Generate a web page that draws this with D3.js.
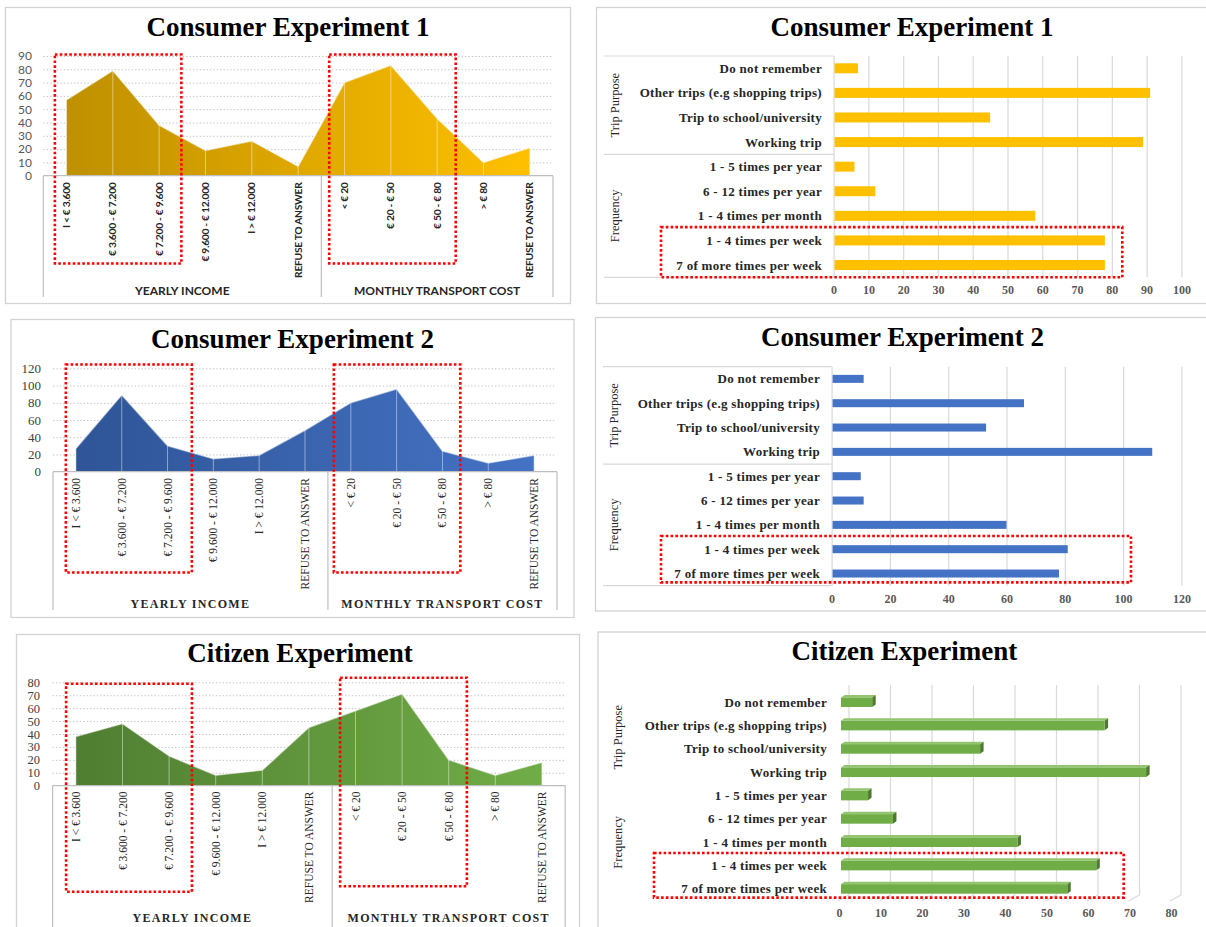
<!DOCTYPE html>
<html>
<head>
<meta charset="utf-8">
<script src="https://cdn.jsdelivr.net/npm/d3@7"></script>
<style>
  html, body { margin: 0; padding: 0; background: #ffffff; }
  svg { display: block; }
</style>
</head>
<body>
<svg id="fig" width="1206" height="927"></svg>
<script>
// ---- Category labels ----
const incomeBands = ["I < € 3.600", "€ 3.600 - € 7.200", "€ 7.200 - € 9.600", "€ 9.600 - € 12.000", "I > € 12.000", "REFUSE TO ANSWER"];
const costBands = ["< € 20", "€ 20 - € 50", "€ 50 - € 80", "> € 80", "REFUSE TO ANSWER"];
const profileGroups = ["YEARLY INCOME", "MONTHLY TRANSPORT COST"];

const tripPurposes = ["Do not remember", "Other trips (e.g shopping trips)", "Trip to school/university", "Working trip"];
const tripFrequencies = ["1 - 5 times per year", "6 - 12 times per year", "1 - 4 times per month", "1 - 4 times per week", "7 of more times per week"];
const usageGroups = ["Trip Purpose", "Frequency"];

const panelTitles = ["Consumer Experiment 1", "Consumer Experiment 2", "Citizen Experiment"];

// ---- Respondents per profile category (income bands, then transport cost bands) ----
const consumer1Profile = [57, 79, 38, 19, 26, 7, 70, 83, 43, 10, 21];
const consumer2Profile = [27, 89, 30, 15, 19, 48, 80, 96, 24, 10, 19];
const citizenProfile   = [38, 48, 23, 8, 12, 45, 58, 71, 20, 8, 18];

// ---- Respondents per trip purpose and per frequency ----
const consumer1Purpose   = [7, 91, 45, 89];
const consumer1Frequency = [6, 12, 58, 78, 78];
const consumer2Purpose   = [11, 66, 53, 110];
const consumer2Frequency = [10, 11, 60, 81, 78];
const citizenPurpose     = [8, 64, 34, 74];
const citizenFrequency   = [7, 13, 43, 62, 55];

// ---- Tick labels ----
const consumer1ProfileTicks = [0, 10, 20, 30, 40, 50, 60, 70, 80, 90];
const consumer2ProfileTicks = [0, 20, 40, 60, 80, 100, 120];
const citizenProfileTicks   = [0, 10, 20, 30, 40, 50, 60, 70, 80];
const consumer1UsageTicks = [0, 10, 20, 30, 40, 50, 60, 70, 80, 90, 100];
const consumer2UsageTicks = [0, 20, 40, 60, 80, 100, 120];
const citizenUsageTicks   = [0, 10, 20, 30, 40, 50, 60, 70, 80];

// ---- Drawing ----
const SERIF = "'Liberation Serif', 'DejaVu Serif', serif";
const SANS = "Lato, 'Liberation Sans', sans-serif";
const INK = "#262626";
const svg = d3.select("#fig");
const defs = svg.append("defs");

function drawFrame(b) {
  svg.append("rect")
    .attr("x", b[0]).attr("y", b[1])
    .attr("width", b[2] - b[0]).attr("height", b[3] - b[1])
    .attr("fill", "none").attr("stroke", "#d3d3d3").attr("stroke-width", 1.3);
}

function drawTitle(text, x, y) {
  svg.append("text")
    .attr("x", x).attr("y", y)
    .attr("text-anchor", "middle")
    .attr("font-family", SERIF).attr("font-weight", "bold")
    .attr("font-size", 27).attr("fill", "#000")
    .text(text);
}

function highlightBox(x0, y0, x1, y1) {
  svg.append("rect")
    .attr("x", x0).attr("y", y0)
    .attr("width", x1 - x0).attr("height", y1 - y0)
    .attr("fill", "none").attr("stroke", "#ff0000")
    .attr("stroke-width", 2.6).attr("stroke-dasharray", "2.6 2.2");
}

// Area chart of the respondent profile, with a two-level category axis
function drawProfile(p) {
  drawFrame(p.frame);
  drawTitle(p.title, p.titleX, p.titleY);

  const cats = incomeBands.concat(costBands);
  const x = d3.scaleBand().domain(d3.range(cats.length)).range(p.x);
  const step = x.step();
  const cx = i => x(i) + step / 2;
  const y = d3.scaleLinear().domain([0, d3.max(p.ticks)]).range(p.y);
  const labelFont = p.sans ? SANS : SERIF;

  // dotted horizontal gridlines
  const grid = svg.append("g")
    .attr("transform", `translate(${p.x[0]},0)`)
    .call(d3.axisRight(y).tickValues(p.ticks.filter(t => t > 0))
      .tickSize(p.x[1] - p.x[0] - 1).tickFormat(""));
  grid.select(".domain").remove();
  grid.selectAll("line")
    .attr("stroke", "#c4c4c4").attr("stroke-width", 1).attr("stroke-dasharray", "1.4 2");

  // value labels on the left
  const yAxis = svg.append("g")
    .attr("transform", `translate(${p.tickX},0)`)
    .call(d3.axisLeft(y).tickValues(p.ticks).tickSize(0).tickPadding(0));
  yAxis.select(".domain").remove();
  yAxis.selectAll("text")
    .attr("font-family", labelFont)
    .attr("font-size", p.tickSize)
    .attr("fill", p.sans ? "#595959" : "#404040");

  // filled area with a left-to-right shade
  const gid = "shade-" + p.id;
  const grad = defs.append("linearGradient").attr("id", gid)
    .attr("gradientUnits", "userSpaceOnUse")
    .attr("x1", cx(0)).attr("x2", cx(cats.length - 1)).attr("y1", 0).attr("y2", 0);
  grad.append("stop").attr("offset", 0).attr("stop-color", p.colors[0]);
  grad.append("stop").attr("offset", 1).attr("stop-color", p.colors[1]);

  const area = d3.area().x((d, i) => cx(i)).y0(y(0)).y1(d => y(d));
  svg.append("path").datum(p.values).attr("d", area).attr("fill", `url(#${gid})`);

  // pale drop lines at each category
  svg.append("g").selectAll("line").data(p.values).join("line")
    .attr("x1", (d, i) => cx(i)).attr("x2", (d, i) => cx(i))
    .attr("y1", d => y(d)).attr("y2", y(0))
    .attr("stroke", "rgba(255,255,255,0.45)").attr("stroke-width", 1);

  // pale rim along the top of the area
  const rim = d3.line().x((d, i) => cx(i)).y(d => y(d));
  svg.append("path").datum(p.values).attr("d", rim)
    .attr("fill", "none").attr("stroke", "rgba(255,255,255,0.5)").attr("stroke-width", 1.4);

  // category axis frame
  const split = x(incomeBands.length);
  const axisColor = "#bfbfbf";
  const frameLines = [
    [p.x[0], y(0), p.x[1], y(0)],
    [p.x[0], y(0), p.x[0], p.boxBottom],
    [split, y(0), split, p.boxBottom],
    [p.x[1], y(0), p.x[1], p.boxBottom]
  ];
  svg.append("g").selectAll("line").data(frameLines).join("line")
    .attr("x1", d => d[0]).attr("y1", d => d[1]).attr("x2", d => d[2]).attr("y2", d => d[3])
    .attr("stroke", axisColor).attr("stroke-width", 1.2);

  // rotated category labels
  svg.append("g").selectAll("text").data(cats).join("text")
    .attr("transform", (d, i) => `translate(${cx(i)},${p.labelTop}) rotate(-90)`)
    .attr("text-anchor", "end").attr("dy", "0.35em")
    .attr("font-family", labelFont)
    .attr("font-weight", p.sans ? "bold" : "normal")
    .attr("font-size", p.sans ? 10.3 : 11.5)
    .attr("letter-spacing", p.sans ? -0.3 : 0)
    .attr("fill", INK)
    .text(d => d);

  // group labels
  const groupCenters = [(p.x[0] + split) / 2, (split + p.x[1]) / 2];
  svg.append("g").selectAll("text").data(profileGroups).join("text")
    .attr("x", (d, i) => groupCenters[i]).attr("y", p.groupY)
    .attr("text-anchor", "middle").attr("dominant-baseline", "central")
    .attr("font-family", labelFont).attr("font-weight", "bold")
    .attr("font-size", p.sans ? 12 : 12)
    .attr("letter-spacing", p.sans ? 0 : 1.3)
    .attr("fill", INK)
    .text(d => d);

  // dotted highlight boxes
  p.boxes.forEach(b => {
    highlightBox(x(b.from) + b.padL * step, b.top, x(b.to) + step - b.padR * step, b.bottom);
  });
}

// Horizontal bar chart of trip purpose and frequency
function drawUsage(p) {
  drawFrame(p.frame);
  drawTitle(p.title, p.titleX, p.titleY);

  const cats = tripPurposes.concat(tripFrequencies);
  const values = p.purpose.concat(p.frequency);
  const x = d3.scaleLinear().domain([0, d3.max(p.ticks)]).range(p.x);
  const yb = d3.scaleBand().domain(d3.range(cats.length)).range(p.band);
  const cy = i => yb(i) + yb.bandwidth() / 2;
  const bandTop = p.band[0], bandBottom = p.band[1];

  if (!p.threeD) {
    // vertical gridlines
    const grid = svg.append("g")
      .attr("transform", `translate(0,${bandTop})`)
      .call(d3.axisTop(x).tickValues(p.ticks).tickSize(-(bandBottom - bandTop)).tickFormat(""));
    grid.select(".domain").remove();
    grid.selectAll("line").attr("stroke", "#d9d9d9").attr("stroke-width", 1.2);

    // label box lines on the left
    const split = yb(tripPurposes.length);
    const boxLines = [
      [p.boxLeft, bandTop, x(0), bandTop],
      [p.boxLeft, split, x(0), split],
      [p.boxLeft, bandBottom, x(0), bandBottom]
    ];
    svg.append("g").selectAll("line").data(boxLines).join("line")
      .attr("x1", d => d[0]).attr("y1", d => d[1]).attr("x2", d => d[2]).attr("y2", d => d[3])
      .attr("stroke", "#d9d9d9").attr("stroke-width", 1.2);

    // flat bars
    svg.append("g").selectAll("rect").data(values).join("rect")
      .attr("x", x(0) + 1)
      .attr("y", (d, i) => cy(i) - p.barH / 2)
      .attr("width", d => x(d) - x(0) - 1)
      .attr("height", p.barH)
      .attr("fill", p.color);
  } else {
    // back wall gridlines with a short perspective floor segment
    const back = p.depth.wall, floorDx = p.depth.floor;
    const g = svg.append("g");
    g.selectAll("path").data(p.ticks).join("path")
      .attr("d", t => `M${x(t) + back},${p.wallTop} L${x(t) + back},${p.wallBottom} L${x(t) + back - floorDx},${p.wallBottom + p.depth.drop}`)
      .attr("fill", "none").attr("stroke", "#d9d9d9").attr("stroke-width", 1.2);

    // bars with front, top and side faces
    const d = p.depth.bar, rise = p.depth.barRise;
    const bars = svg.append("g").selectAll("g").data(values).join("g");
    const x0 = x(0) + 2;
    bars.append("path")
      .attr("d", (v, i) => {
        const t = cy(i) - p.barH / 2;
        return `M${x0},${t} L${x0 + d},${t - rise} L${x(v) + d},${t - rise} L${x(v)},${t} Z`;
      })
      .attr("fill", "#93c56f");
    bars.append("path")
      .attr("d", (v, i) => {
        const t = cy(i) - p.barH / 2, b = cy(i) + p.barH / 2;
        return `M${x(v)},${t} L${x(v) + d},${t - rise} L${x(v) + d},${b - rise} L${x(v)},${b} Z`;
      })
      .attr("fill", "#4d7a2e");
    bars.append("rect")
      .attr("x", x0)
      .attr("y", (v, i) => cy(i) - p.barH / 2)
      .attr("width", v => x(v) - x0)
      .attr("height", p.barH)
      .attr("fill", p.color);
  }

  // value tick labels
  const xAxis = svg.append("g")
    .attr("transform", `translate(0,${p.tickY})`)
    .call(d3.axisBottom(x).tickValues(p.ticks).tickSize(0).tickPadding(0));
  xAxis.select(".domain").remove();
  xAxis.selectAll("text")
    .attr("dy", "0.35em")
    .attr("font-family", SERIF).attr("font-weight", "bold")
    .attr("font-size", 12).attr("fill", "#595959");

  // category labels
  svg.append("g").selectAll("text").data(cats).join("text")
    .attr("x", p.labelX).attr("y", (d, i) => cy(i))
    .attr("text-anchor", "end").attr("dominant-baseline", "central")
    .attr("font-family", SERIF).attr("font-weight", "bold")
    .attr("font-size", 13).attr("letter-spacing", 0.3)
    .attr("fill", INK)
    .text(d => d);

  // rotated group labels
  const groupCenters = [
    (yb(0) + yb(tripPurposes.length - 1) + yb.bandwidth()) / 2,
    (yb(tripPurposes.length) + yb(cats.length - 1) + yb.bandwidth()) / 2
  ];
  svg.append("g").selectAll("text").data(usageGroups).join("text")
    .attr("transform", (d, i) => `translate(${p.groupX},${groupCenters[i]}) rotate(-90)`)
    .attr("text-anchor", "middle").attr("dominant-baseline", "central")
    .attr("font-family", SERIF).attr("font-size", 12.5).attr("fill", INK)
    .text(d => d);

  // dotted highlight box around the weekly frequencies
  const h = p.highlight;
  highlightBox(h.left, yb(h.from) - 1, x(h.upTo), bandBottom - h.bottomInset);
}

drawProfile({
  id: "ce1", title: panelTitles[0], values: consumer1Profile, ticks: consumer1ProfileTicks,
  frame: [5.5, 7.5, 570.5, 303.5], titleX: 288, titleY: 36,
  x: [43.3, 553], y: [175.7, 56], tickX: 32, tickSize: 12, labelTop: 182.5, boxBottom: 297, groupY: 290,
  colors: ["#bf9000", "#ffc000"], sans: true,
  boxes: [
    { from: 0, to: 2, padL: 0.25, padR: 0.02, top: 54.5, bottom: 263.5 },
    { from: 6, to: 8, padL: 0.17, padR: 0.1, top: 54.5, bottom: 263.5 }
  ]
});

drawProfile({
  id: "ce2", title: panelTitles[1], values: consumer2Profile, ticks: consumer2ProfileTicks,
  frame: [11, 319.5, 574, 617.5], titleX: 292.6, titleY: 348,
  x: [53, 557], y: [471.7, 368.3], tickX: 41, tickSize: 13, labelTop: 478, boxBottom: 610, groupY: 604,
  colors: ["#2f5597", "#4472c4"], sans: false,
  boxes: [
    { from: 0, to: 2, padL: 0.28, padR: -0.03, top: 364.5, bottom: 572.5 },
    { from: 6, to: 8, padL: 0.13, padR: 0.11, top: 364.5, bottom: 572.5 }
  ]
});

drawProfile({
  id: "cit", title: panelTitles[2], values: citizenProfile, ticks: citizenProfileTicks,
  frame: [16.5, 634.5, 579.5, 945], titleX: 300, titleY: 662,
  x: [52.6, 565.2], y: [785.7, 682.3], tickX: 40, tickSize: 12.5, labelTop: 791.5, boxBottom: 945, groupY: 918,
  colors: ["#507e32", "#70ad47"], sans: false,
  boxes: [
    { from: 0, to: 2, padL: 0.29, padR: 0.01, top: 683.7, bottom: 891.7 },
    { from: 6, to: 8, padL: 0.17, padR: 0.11, top: 677.7, bottom: 886.3 }
  ]
});

drawUsage({
  title: panelTitles[0], purpose: consumer1Purpose, frequency: consumer1Frequency, ticks: consumer1UsageTicks,
  frame: [596.5, 7.5, 1215, 303.5], titleX: 912, titleY: 36,
  x: [833.6, 1181.4], band: [56, 277.3], labelX: 822, groupX: 614.5, boxLeft: 604, tickY: 290,
  barH: 10, color: "#ffc000",
  highlight: { left: 661, from: 7, upTo: 83, bottomInset: 0 }
});

drawUsage({
  title: panelTitles[1], purpose: consumer2Purpose, frequency: consumer2Frequency, ticks: consumer2UsageTicks,
  frame: [595.5, 317.5, 1215, 611], titleX: 902.4, titleY: 346,
  x: [831.6, 1181.4], band: [366.7, 585.7], labelX: 820, groupX: 613.6, boxLeft: 603, tickY: 599,
  barH: 8, color: "#4472c4",
  highlight: { left: 661, from: 7, upTo: 102.7, bottomInset: 3.3 }
});

drawUsage({
  title: panelTitles[2], purpose: citizenPurpose, frequency: citizenFrequency, ticks: citizenUsageTicks,
  frame: [598, 632, 1215, 945], titleX: 904.3, titleY: 660,
  x: [839, 1171], band: [690.6, 900.6], labelX: 827, groupX: 618.3, tickY: 912.5,
  barH: 9.5, color: "#70ad47", threeD: true,
  wallTop: 685, wallBottom: 895,
  depth: { wall: 10, floor: 11, drop: 6, bar: 3.5, barRise: 2.5 },
  highlight: { left: 654, from: 7, upTo: 68.6, bottomInset: 3 }
});
</script>
</body>
</html>
